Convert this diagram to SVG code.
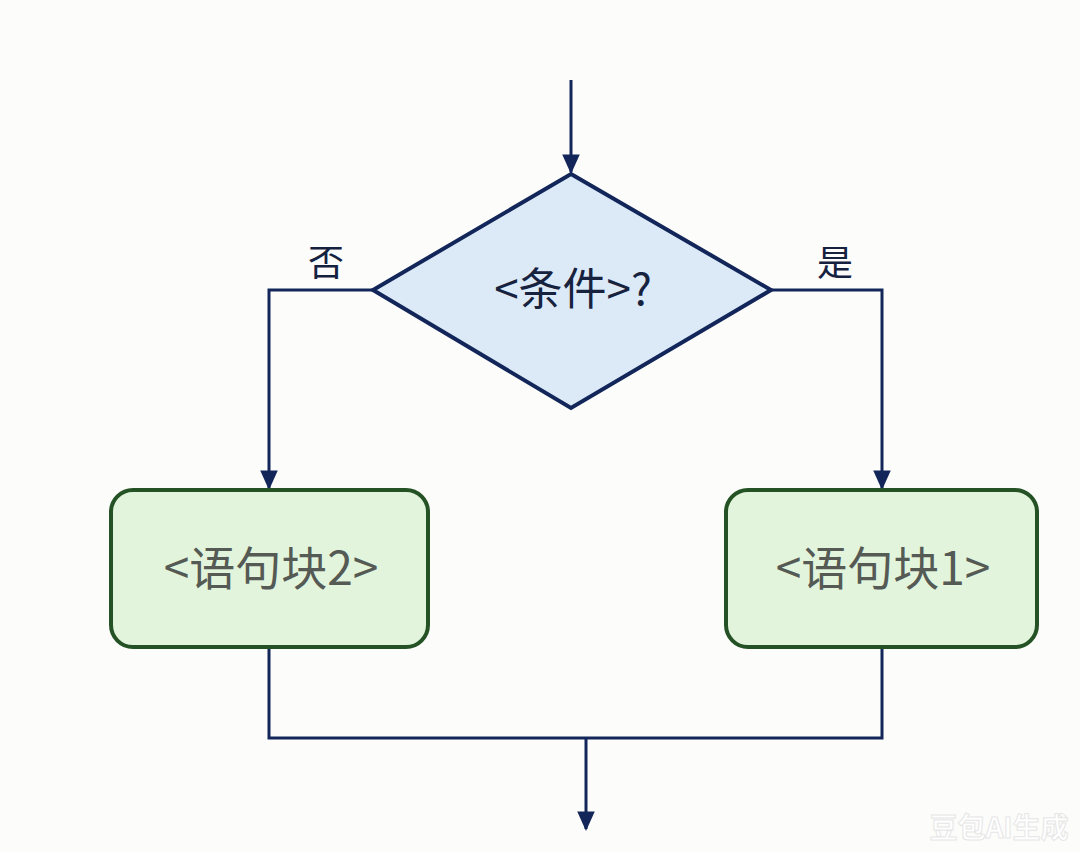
<svg xmlns="http://www.w3.org/2000/svg" width="1080" height="852" viewBox="0 0 1080 852">
<defs>
<marker id="arr" viewBox="0 0 10 10" refX="9" refY="5" markerWidth="6.5" markerHeight="6.5" orient="auto" markerUnits="strokeWidth">
<path d="M0,0.5 L10,5 L0,9.5 z" fill="#13265a"/>
</marker>
<style>
.ln{fill:none;stroke:#13265a;stroke-width:3}
.box{fill:#e2f5dc;stroke:#245224;stroke-width:4}
.dia{fill:#dceaf8;stroke:#13265a;stroke-width:4;stroke-linejoin:miter}
.t{font-family:"Noto Sans CJK SC","Noto Sans",sans-serif;text-anchor:middle;dominant-baseline:central}
</style>
</defs>
<rect width="1080" height="852" fill="#fcfcfa"/>
<g id="connectors">
<line class="ln" x1="571" y1="80" x2="571" y2="172" marker-end="url(#arr)"/>
<polyline class="ln" points="373,290 269,290 269,488" marker-end="url(#arr)"/>
<polyline class="ln" points="771,290 882,290 882,488" marker-end="url(#arr)"/>
<polyline class="ln" points="269,648 269,738 882,738 882,648"/>
<line class="ln" x1="586" y1="738" x2="586" y2="829" marker-end="url(#arr)"/>
<text class="t" x="326" y="260" font-size="36" fill="#14213f">否</text>
<text class="t" x="835" y="260" font-size="36" fill="#14213f">是</text>
</g>
<g id="condition">
<polygon class="dia" points="571,174 771,290 571,408 373,290"/>
<text class="t" x="573" y="286" font-size="44" fill="#17223f">&lt;条件&gt;?</text>
</g>
<g id="block2">
<rect class="box" x="111" y="490" width="317" height="157" rx="22"/>
<text class="t" x="271" y="565" font-size="46" fill="#555a55">&lt;语句块2&gt;</text>
</g>
<g id="block1">
<rect class="box" x="726" y="490" width="311" height="157" rx="22"/>
<text class="t" x="883" y="565" font-size="46" fill="#555a55">&lt;语句块1&gt;</text>
</g>
<text class="t" x="999" y="826" font-size="28" font-weight="bold" fill="#ffffff" stroke="#e6e6e6" stroke-width="1">豆包AI生成</text>
</svg>
